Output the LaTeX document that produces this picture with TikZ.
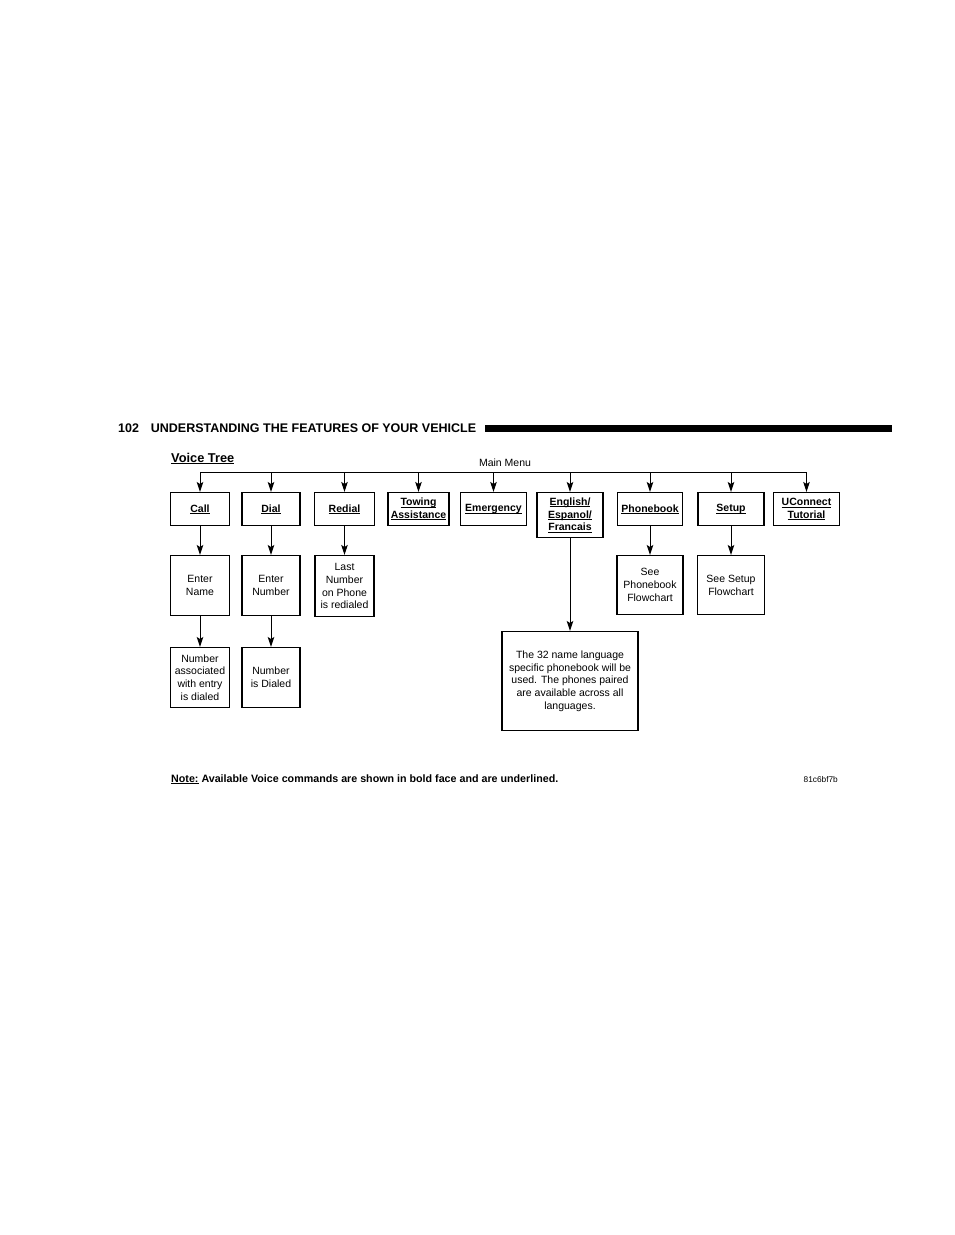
\documentclass[tikz,border=0pt]{standalone}
\usepackage{fontspec}
\setmainfont{Liberation Sans}
\usetikzlibrary{arrows.meta}
\newcommand\vc[1]{\setbox0\hbox{\textbf{#1}}\rlap{\rule[-1.7pt]{\wd0}{0.7pt}}\box0}
\tikzset{
  vbox/.style={draw,line width=1.2pt,align=center,inner sep=1pt,anchor=north,font=\fontsize{10.5}{12.8}\selectfont},
  arr/.style={line width=1pt,-{Stealth[length=10pt,width=6.5pt,inset=2pt]}}
}
\begin{document}
\begin{tikzpicture}[x=1pt,y=-1pt]
			\useasboundingbox (0,0) rectangle (954,1235);
			\node[anchor=base west,inner sep=0,font=\bfseries\fontsize{12.5}{14}\selectfont] (head) at (118,432) {102\hspace{0.95em}UNDERSTANDING THE FEATURES OF YOUR VEHICLE};
			\fill (485,425) rectangle (892,432);
			\node[anchor=base west,inner sep=0,font=\fontsize{12.8}{14}\selectfont] (title) at (171,462) {\vc{Voice Tree}};
			\node[anchor=base,inner sep=0,font=\fontsize{10.5}{12}\selectfont] (mainmenu) at (505,466) {Main Menu};
			\coordinate (bus) at (0,472);
			\node[vbox,minimum width=59pt,minimum height=33pt] (call) at (200,492) {\vc{Call}};
			\node[vbox,minimum width=58pt,minimum height=33pt] (dial) at (271,492) {\vc{Dial}};
			\node[vbox,minimum width=60pt,minimum height=33pt] (redial) at (344.5,492) {\vc{Redial}};
			\node[vbox,minimum width=61pt,minimum height=33pt] (towing) at (418.5,492) {\vc{Towing}\\\vc{Assistance}};
			\node[vbox,minimum width=66pt,minimum height=33pt] (emergency) at (493.5,492) {\vc{Emergency}};
			\node[vbox,minimum width=66pt,minimum height=45pt] (language) at (570,492) {\vc{English/}\\\vc{Espanol/}\\\vc{Francais}};
			\node[vbox,minimum width=65pt,minimum height=33pt] (phonebook) at (650,492) {\vc{Phonebook}};
			\node[vbox,minimum width=66pt,minimum height=33pt] (setup) at (731,492) {\vc{Setup}};
			\node[vbox,minimum width=66pt,minimum height=33pt] (uconnect) at (806.5,492) {\vc{UConnect}\\\vc{Tutorial}};
			\draw [line width=1pt] (bus -| call.north) -- (bus -| uconnect.north);
			\foreach \n in {call,dial,redial,towing,emergency,language,phonebook,setup,uconnect}
			\draw [arr] (bus -| \n.north) -- (\n.north);
			\node[vbox,minimum width=59pt,minimum height=60pt] (entername) at (200,555) {Enter\\Name};
			\node[vbox,minimum width=58pt,minimum height=60pt] (enternumber) at (271,555) {Enter\\Number};
			\node[vbox,minimum width=59pt,minimum height=61pt] (lastnumber) at (344.5,555) {Last\\Number\\on Phone\\is redialed};
			\node[vbox,minimum width=66pt,minimum height=59pt] (seephonebook) at (650,555) {See\\Phonebook\\Flowchart};
			\node[vbox,minimum width=67pt,minimum height=59pt] (seesetup) at (731,555) {See Setup\\Flowchart};
			\node[vbox,minimum width=59pt,minimum height=60pt] (namedialed) at (200,647) {Number\\associated\\with entry\\is dialed};
			\node[vbox,minimum width=58pt,minimum height=60pt] (numberdialed) at (271,647) {Number\\is Dialed};
			\node[vbox,minimum width=136pt,minimum height=99pt] (languages) at (570,631) {The 32 name language\\specific phonebook will be\\used. The phones paired\\are available across all\\languages.};
			\draw [arr] (call) -- (entername);
			\draw [arr] (dial) -- (enternumber);
			\draw [arr] (redial) -- (lastnumber);
			\draw [arr] (entername) -- (namedialed);
			\draw [arr] (enternumber) -- (numberdialed);
			\draw [arr] (phonebook) -- (seephonebook);
			\draw [arr] (setup) -- (seesetup);
			\draw [arr] (language) -- (languages);
			\node[anchor=base west,inner sep=0,font=\bfseries\fontsize{10.7}{12}\selectfont] (note) at (171,782) {\underline{Note:} Available Voice commands are shown in bold face and are underlined.};
			\node[anchor=base east,inner sep=0,font=\fontsize{8.3}{10}\selectfont] (code) at (838,782) {81c6bf7b};
\end{tikzpicture}
\end{document}
